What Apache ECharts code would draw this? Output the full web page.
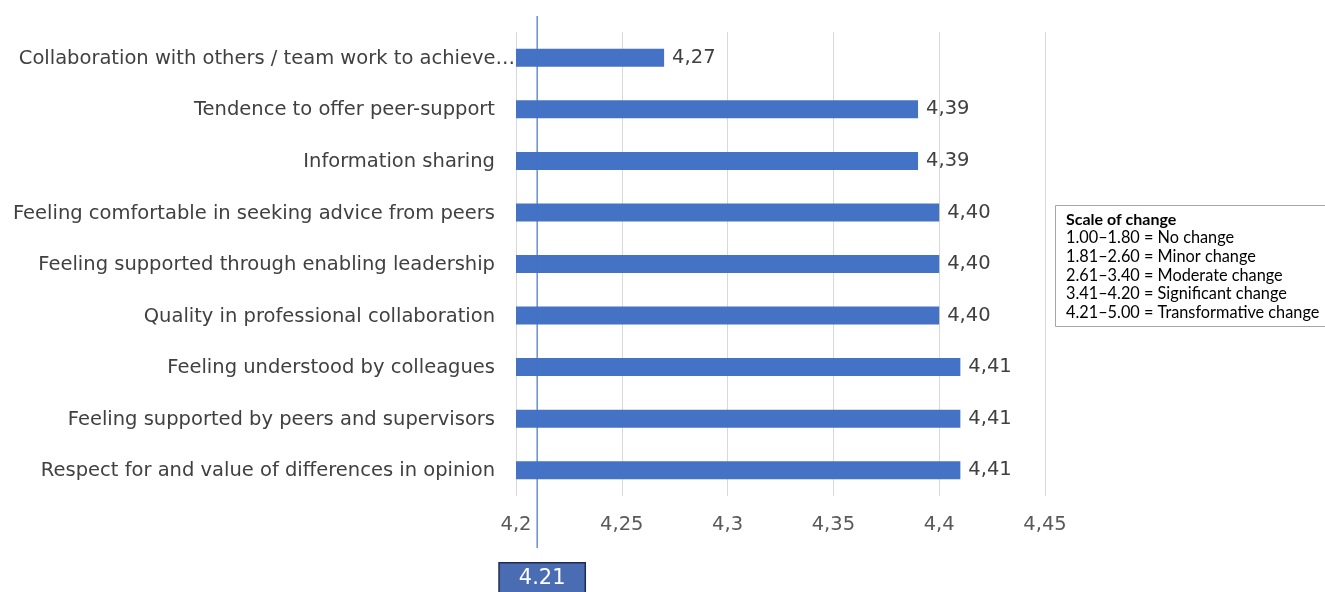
<!DOCTYPE html>
<html>
<head>
<meta charset="utf-8">
<script src="https://cdn.jsdelivr.net/npm/echarts@6/dist/echarts.min.js"></script>
<style>
  html, body { margin: 0; padding: 0; background: #ffffff; }
  #chart { width: 1325px; height: 592px; }
</style>
</head>
<body>
<div id="chart"></div>
<script>
// Items, listed bottom-to-top as they appear on the category axis
const categories = [
  'Respect for and value of differences in opinion',
  'Feeling supported by peers and supervisors',
  'Feeling understood by colleagues',
  'Quality in professional collaboration',
  'Feeling supported through enabling leadership',
  'Feeling comfortable in seeking advice from peers',
  'Information sharing',
  'Tendence to offer peer-support',
  'Collaboration with others / team work to achieve\u2026'
];
const meanScores = [4.41, 4.41, 4.41, 4.40, 4.40, 4.40, 4.39, 4.39, 4.27];

// Value axis range and step
const axisMin = 4.2;
const axisMax = 4.45;
const axisStep = 0.05;

// Threshold of transformative change
const threshold = 4.21;

// Scale-of-change key
const scaleTitle = 'Scale of change';
const scaleLines = [
  '1.00\u20131.80 = No change',
  '1.81\u20132.60 = Minor change',
  '2.61\u20133.40 = Moderate change',
  '3.41\u20134.20 = Significant change',
  '4.21\u20135.00 = Transformative change'
];

const font = 'DejaVu Sans';
const fs = 19.5;

const chart = echarts.init(document.getElementById('chart'), null, { renderer: 'canvas' });

chart.setOption({
  animation: false,
  backgroundColor: '#ffffff',
  title: {
    left: 1055,
    top: 204,
    padding: [6, 20, 6, 11],
    borderColor: '#a6a6a6',
    borderWidth: 1,
    text: '{t|' + scaleTitle + '}\n' + scaleLines.map(s => '{l|' + s + '}').join('\n'),
    textStyle: {
      fontWeight: 'normal',
      rich: {
        t: { fontFamily: 'Lato', fontWeight: 'bold', fontSize: 16, color: '#000000', lineHeight: 18.7 },
        l: { fontFamily: 'Lato', fontWeight: 'normal', fontSize: 16.3, color: '#000000', lineHeight: 18.7 }
      }
    }
  },
  grid: [
    { left: 516, right: 280, top: 32, bottom: 96 },
    { left: 516, right: 280, top: 16, bottom: 44 }
  ],
  xAxis: [
    {
      type: 'value',
      gridIndex: 0,
      min: axisMin,
      max: axisMax,
      interval: axisStep,
      axisLine: { show: false },
      axisTick: { show: false },
      splitLine: { show: true, lineStyle: { color: '#d9d9d9', width: 1 } },
      axisLabel: {
        color: '#595959',
        fontFamily: font,
        fontSize: fs,
        margin: 19,
        formatter: v => String(Math.round(v * 100) / 100).replace('.', ',')
      }
    },
    {
      type: 'value',
      gridIndex: 1,
      min: axisMin,
      max: axisMax,
      show: false
    }
  ],
  yAxis: [
    {
      type: 'category',
      gridIndex: 0,
      data: categories,
      axisLine: { show: false },
      axisTick: { show: false },
      splitLine: { show: false },
      axisLabel: {
        margin: 0,
        formatter: (v) => v.endsWith('\u2026') ? '{e|' + v + '}' : '{n|' + v + '}',
        rich: {
          n: { color: '#404040', fontFamily: font, fontSize: fs, padding: [2, 21, 0, 0] },
          e: { color: '#404040', fontFamily: font, fontSize: fs, padding: [2, 1, 0, 0] }
        }
      }
    },
    {
      type: 'value',
      gridIndex: 1,
      min: 0,
      max: 1,
      show: false
    }
  ],
  series: [
    {
      type: 'bar',
      xAxisIndex: 0,
      yAxisIndex: 0,
      data: meanScores,
      barWidth: 18,
      itemStyle: { color: '#4472c4' },
      label: {
        show: true,
        position: 'right',
        distance: 8,
        color: '#404040',
        fontFamily: font,
        fontSize: fs,
        padding: [2, 0, 0, 0],
        formatter: p => p.value.toFixed(2).replace('.', ',')
      },
      z: 2
    },
    {
      type: 'line',
      xAxisIndex: 1,
      yAxisIndex: 1,
      data: [[threshold, 0], [threshold, 1]],
      symbol: 'none',
      lineStyle: { color: '#4472c4', width: 1.2 },
      markPoint: {
        symbol: 'rect',
        symbolSize: 0,
        data: [{
          coord: [threshold, 0],
          label: {
            show: true,
            position: 'inside',
            offset: [5, 31],
            formatter: threshold.toFixed(2),
            color: '#ffffff',
            fontFamily: font,
            fontSize: 21,
            backgroundColor: '#4a6cb3',
            borderColor: '#1f2c4f',
            borderWidth: 1.5,
            padding: [5, 19, 5, 19]
          }
        }]
      },
      z: 3
    }
  ]
});
</script>
</body>
</html>
